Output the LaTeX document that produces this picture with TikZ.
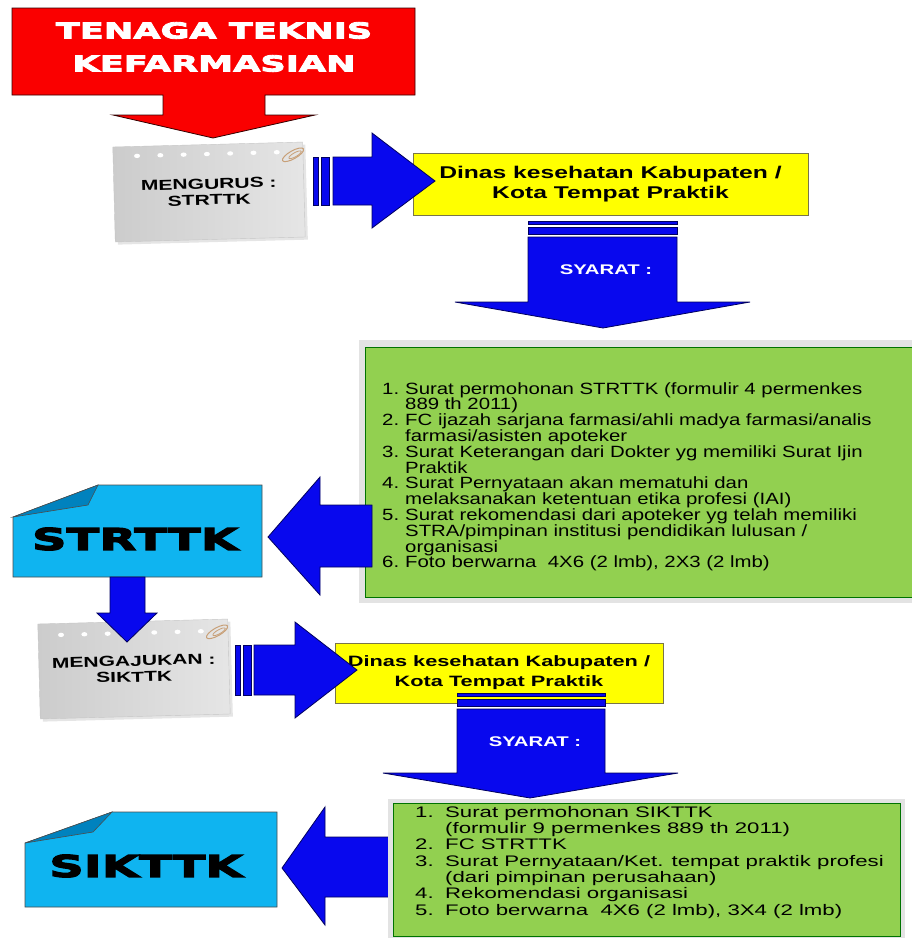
\documentclass[tikz,border=0pt]{standalone}
\usepackage{fontspec}
\setmainfont{Liberation Sans}
\newfontfamily\heavyfont[FakeStretch=1.6,FakeBold=4]{DejaVu Sans}
\newfontfamily\medfont[FakeStretch=1.45]{Liberation Sans}
\newfontfamily\bodyfont[FakeStretch=1.25]{Liberation Sans}
\usetikzlibrary{shadows}

\definecolor{titlered}{RGB}{250,0,0}
\definecolor{arrowblue}{RGB}{8,8,238}
\definecolor{arrowedge}{RGB}{0,0,95}
\definecolor{dinasyellow}{RGB}{255,255,0}
\definecolor{reqgreen}{RGB}{146,208,80}
\definecolor{doccyan}{RGB}{15,180,240}
\definecolor{docfold}{RGB}{0,130,190}
\definecolor{clipbrown}{RGB}{200,160,120}

\newcommand{\listnum}[2][23pt]{\makebox[#1][l]{#2}}
\newcommand{\listcont}[1][23pt]{\hspace*{#1}}

\begin{document}
\begin{tikzpicture}[x=1pt, y=-1pt,
        redarrow/.style={fill=titlered, draw=black!80!red, line width=0.8pt},
        bluearrow/.style={fill=arrowblue, draw=arrowedge, line width=0.8pt},
        notepaper/.style={rectangle, left color=gray!40, right color=gray!20, draw=gray!45, minimum width=190pt, minimum height=95pt, rotate=1.5, align=center, drop shadow={opacity=0.2}, font=\medfont\bfseries\fontsize{14.5}{16}\selectfont},
        dinasbox/.style={rectangle, fill=dinasyellow, draw=black!60!yellow, line width=0.8pt, align=center, font=\medfont\bfseries\fontsize{17}{20}\selectfont},
        reqbox/.style={rectangle, fill=reqgreen, draw=black!55!green, line width=0.8pt},
        docbox/.style={fill=doccyan, draw=black!70, line width=0.6pt},
        docfoldpart/.style={fill=docfold, draw=black!70, line width=0.6pt},
        doclabel/.style={font=\heavyfont\bfseries\fontsize{30}{30}\selectfont},
        syaratlabel/.style={text=white, font=\medfont\bfseries\fontsize{14}{16}\selectfont},
        reqlist/.style={anchor=north west, inner sep=0pt, align=left}
    ]
        \fill[white] (0,0) rectangle (912,938);
        \useasboundingbox (0,0) rectangle (912,938);

        % --- TITLE ---
        \draw[redarrow] (12,8) -- (415,8) -- (415,95) -- (265,95) -- (265,115) -- (315,115) -- (213,138) -- (113,115) -- (163,115) -- (163,95) -- (12,95) -- cycle;
        \node[text=white, align=center, font=\heavyfont\bfseries\fontsize{22}{33}\selectfont] (title) at (214,47) {TENAGA TEKNIS\\KEFARMASIAN};

        % --- STRTTK ---
        \node[notepaper] (mengurus) at (209,192) {MENGURUS :\\STRTTK};
        \begin{scope}[shift={(mengurus.center)}, rotate=1.5]
            \foreach \hx in {-71,-47.7,...,70}
                \fill[white] (\hx,-38) ellipse (3 and 2.2);
            \draw[clipbrown, line width=1pt, rotate around={28:(85,-35)}] (85,-35) ellipse (12 and 4);
            \draw[clipbrown, line width=0.8pt, rotate around={28:(87,-35)}] (87,-35) ellipse (7 and 2);
        \end{scope}

        \node[dinasbox, minimum width=395pt, minimum height=62pt] (dinasA) at (610.5,184) {Dinas kesehatan Kabupaten /\\Kota Tempat Praktik};

        \draw[bluearrow] (313,157) rectangle (318,205);
        \draw[bluearrow] (321,157) rectangle (329,205);
        \draw[bluearrow] (333,157) -- (372,157) -- (372,133) -- (435,181) -- (372,228) -- (372,205) -- (333,205) -- cycle;

        \draw[bluearrow] (528,221) rectangle (677,224);
        \draw[bluearrow] (528,227) rectangle (677,234);
        \draw[bluearrow] (528,237) -- (677,237) -- (677,302) -- (750,302) -- (603,328) -- (455,302) -- (528,302) -- cycle;
        \node[syaratlabel] (syaratA) at (606,270) {SYARAT :};

        \fill[gray!22] (359,340) rectangle (915,603);
        \node[reqbox, anchor=north west, minimum width=560pt, minimum height=250pt] (strreq) at (365,347) {};
        \node[reqlist, font=\bodyfont\fontsize{16.3}{15.8}\selectfont] (strlist) at (382,382) {%
            \listnum{1.}Surat permohonan STRTTK (formulir 4 permenkes\\
            \listcont 889 th 2011)\\
            \listnum{2.}FC ijazah sarjana farmasi/ahli madya farmasi/analis\\
            \listcont farmasi/asisten apoteker\\
            \listnum{3.}Surat Keterangan dari Dokter yg memiliki Surat Ijin\\
            \listcont Praktik\\
            \listnum{4.}Surat Pernyataan akan mematuhi dan\\
            \listcont melaksanakan ketentuan etika profesi (IAI)\\
            \listnum{5.}Surat rekomendasi dari apoteker yg telah memiliki\\
            \listcont STRA/pimpinan institusi pendidikan lulusan /\\
            \listcont organisasi\\
            \listnum{6.}Foto berwarna~ 4X6 (2 lmb), 2X3 (2 lmb)};

        \draw[docbox] (98,485) -- (262,485) -- (262,577) -- (13,577) -- (13,517) -- cycle;
        \draw[docfoldpart] (98,485) -- (88,505) -- (13,517) -- cycle;
        \node[doclabel] (strttk) at (135,539) {STRTTK};

        \draw[bluearrow] (372,505) -- (320,505) -- (320,477) -- (268,537) -- (320,595) -- (320,567) -- (372,567) -- cycle;

        % --- SIKTTK ---
        \node[notepaper] (mengajukan) at (134,669) {MENGAJUKAN :\\SIKTTK};
        \begin{scope}[shift={(mengajukan.center)}, rotate=1.5]
            \foreach \hx in {-72,-48.7,...,70}
                \fill[white] (\hx,-36) ellipse (3 and 2.2);
            \draw[clipbrown, line width=1pt, rotate around={28:(84,-35)}] (84,-35) ellipse (12 and 4);
            \draw[clipbrown, line width=0.8pt, rotate around={28:(86,-35)}] (86,-35) ellipse (7 and 2);
        \end{scope}

        \draw[bluearrow] (110,577) -- (145,577) -- (145,613) -- (157,613) -- (127,642) -- (97,613) -- (110,613) -- cycle;

        \node[dinasbox, minimum width=328pt, minimum height=60pt, font=\medfont\bfseries\fontsize{15}{20}\selectfont] (dinasB) at (499,673) {Dinas kesehatan Kabupaten /\\Kota Tempat Praktik};

        \draw[bluearrow] (235,645) rectangle (240,695);
        \draw[bluearrow] (243,645) rectangle (251,695);
        \draw[bluearrow] (254,645) -- (295,645) -- (295,622) -- (357,670) -- (295,718) -- (295,695) -- (254,695) -- cycle;

        \draw[bluearrow] (457,693) rectangle (605,696);
        \draw[bluearrow] (457,699) rectangle (605,706);
        \draw[bluearrow] (457,709) -- (605,709) -- (605,773) -- (678,773) -- (530,798) -- (383,773) -- (457,773) -- cycle;
        \node[syaratlabel] (syaratB) at (535,742) {SYARAT :};

        \draw[bluearrow] (400,837) -- (325,837) -- (325,807) -- (282,868) -- (325,925) -- (325,897) -- (400,897) -- cycle;

        \fill[gray!22] (388,799) rectangle (905,940);
        \node[reqbox, anchor=north west, minimum width=507pt, minimum height=133pt] (sikreq) at (393,803) {};
        \node[reqlist, font=\medfont\fontsize{15.3}{16.3}\selectfont] (siklist) at (415,806) {%
            \listnum[30pt]{1.}Surat permohonan SIKTTK\\
            \listcont[30pt](formulir 9 permenkes 889 th 2011)\\
            \listnum[30pt]{2.}FC STRTTK\\
            \listnum[30pt]{3.}Surat Pernyataan/Ket. tempat praktik profesi\\
            \listcont[30pt](dari pimpinan perusahaan)\\
            \listnum[30pt]{4.}Rekomendasi organisasi\\
            \listnum[30pt]{5.}Foto berwarna~ 4X6 (2 lmb), 3X4 (2 lmb)};

        \draw[docbox] (112,812) -- (277,812) -- (277,907) -- (25,907) -- (25,843) -- cycle;
        \draw[docfoldpart] (112,812) -- (93,832) -- (25,843) -- cycle;
        \node[doclabel] (sikttk) at (146,866) {SIKTTK};

    \end{tikzpicture}
\end{document}
